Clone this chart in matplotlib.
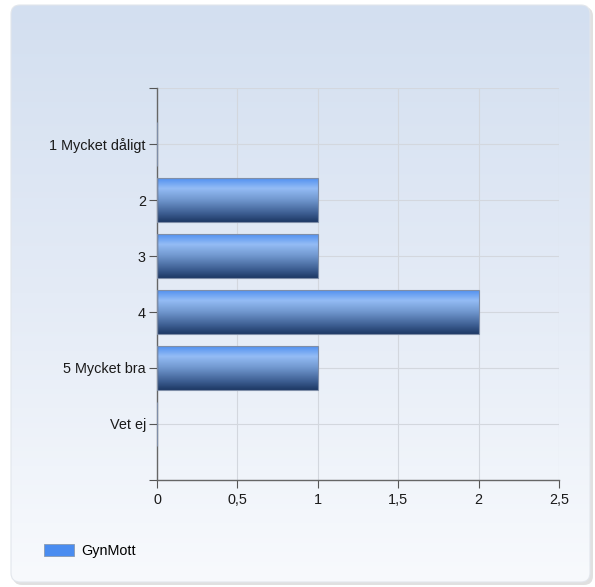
import numpy as np
import matplotlib
matplotlib.use("Agg")
import matplotlib.pyplot as plt
from matplotlib.patches import FancyBboxPatch, Patch
from matplotlib.colors import LinearSegmentedColormap

plt.rcParams["font.family"] = ["Liberation Sans", "DejaVu Sans"]

# data
categories = ["1 Mycket dåligt", "2", "3", "4", "5 Mycket bra", "Vet ej"]
values = [0, 1, 1, 2, 1, 0]
series_name = "GynMott"
xticks = [0, 0.5, 1, 1.5, 2, 2.5]
xtick_labels = ["0", "0,5", "1", "1,5", "2", "2,5"]

W, H = 595, 587
fig = plt.figure(figsize=(W / 100, H / 100), dpi=100)
fig.patch.set_facecolor("white")

# background panel with vertical gradient and rounded corners
bg = fig.add_axes([0, 0, 1, 1], zorder=-10)
bg.set_xlim(0, W)
bg.set_ylim(H, 0)
bg.axis("off")
shadow = FancyBboxPatch((13, 7), 580, 578, boxstyle="round,pad=0,rounding_size=9",
                        facecolor="#cccccc", edgecolor="none", alpha=0.6)
bg.add_patch(shadow)
panel = FancyBboxPatch((11, 5), 579, 577, boxstyle="round,pad=0,rounding_size=9",
                       facecolor="none", edgecolor="#e2e6ec", linewidth=0.8)
bg.add_patch(panel)
panel_cmap = LinearSegmentedColormap.from_list("panel", ["#d3dff0", "#e4ebf6", "#f8fafd"])
grad = np.linspace(0, 1, 256).reshape(-1, 1)
im = bg.imshow(grad, cmap=panel_cmap, extent=(11, 590, 582, 5), origin="upper",
               aspect="auto", zorder=1)
im.set_clip_path(panel)
panel.set_zorder(2)

# plot area
left, right, top, bottom = 157, 559, 88, 480
ax = fig.add_axes([left / W, 1 - bottom / H, (right - left) / W, (bottom - top) / H])
ax.patch.set_alpha(0)

bar_cmap = LinearSegmentedColormap.from_list(
    "bar", [(0.0, "#4a8cf0"), (0.25, "#94bcf5"), (0.5, "#7198cf"),
            (0.8, "#3e5f93"), (1.0, "#1d3864")])
ypos = np.arange(1, len(categories) + 1)
bar_h = 0.8
bars = ax.barh(ypos, values, height=bar_h, facecolor="none",
               edgecolor="#7f8ea8", linewidth=0.8, zorder=3)
for rect, y, v in zip(bars, ypos, values):
    if v <= 0:
        continue
    g = ax.imshow(grad, cmap=bar_cmap, extent=(0, v, y + bar_h / 2, y - bar_h / 2),
                  origin="upper", aspect="auto", zorder=2)
    g.set_clip_path(rect)

ax.set_xlim(0, 2.5)
ax.set_ylim(len(categories) + 1, 0)
ax.set_xticks(xticks)
ax.set_xticklabels(xtick_labels)
ax.set_yticks(np.arange(0, len(categories) + 2))
ax.set_yticklabels([""] + categories + [""])
ax.tick_params(axis="both", length=6, width=0.8, color="#555555",
               labelsize=10.4, labelcolor="#1a1a1a")
ax.tick_params(axis="y", pad=2)
ax.tick_params(axis="x", pad=3)
ax.grid(True, color="#d3d7de", linewidth=0.8, zorder=0)
ax.set_axisbelow(True)
for s in ["top", "right"]:
    ax.spines[s].set_visible(False)
for s in ["left", "bottom"]:
    ax.spines[s].set_color("#666666")
    ax.spines[s].set_linewidth(1.0)

# legend
fig.legend(handles=[Patch(facecolor="#4a8cf0", edgecolor="#8a9ab0", linewidth=0.6,
                          label=series_name)],
           loc="center left", bbox_to_anchor=(31 / W, 1 - 551 / H), frameon=False,
           fontsize=10.4, handlelength=2.1, handleheight=0.95, handletextpad=0.45)

fig.savefig("out.png", dpi=100)
